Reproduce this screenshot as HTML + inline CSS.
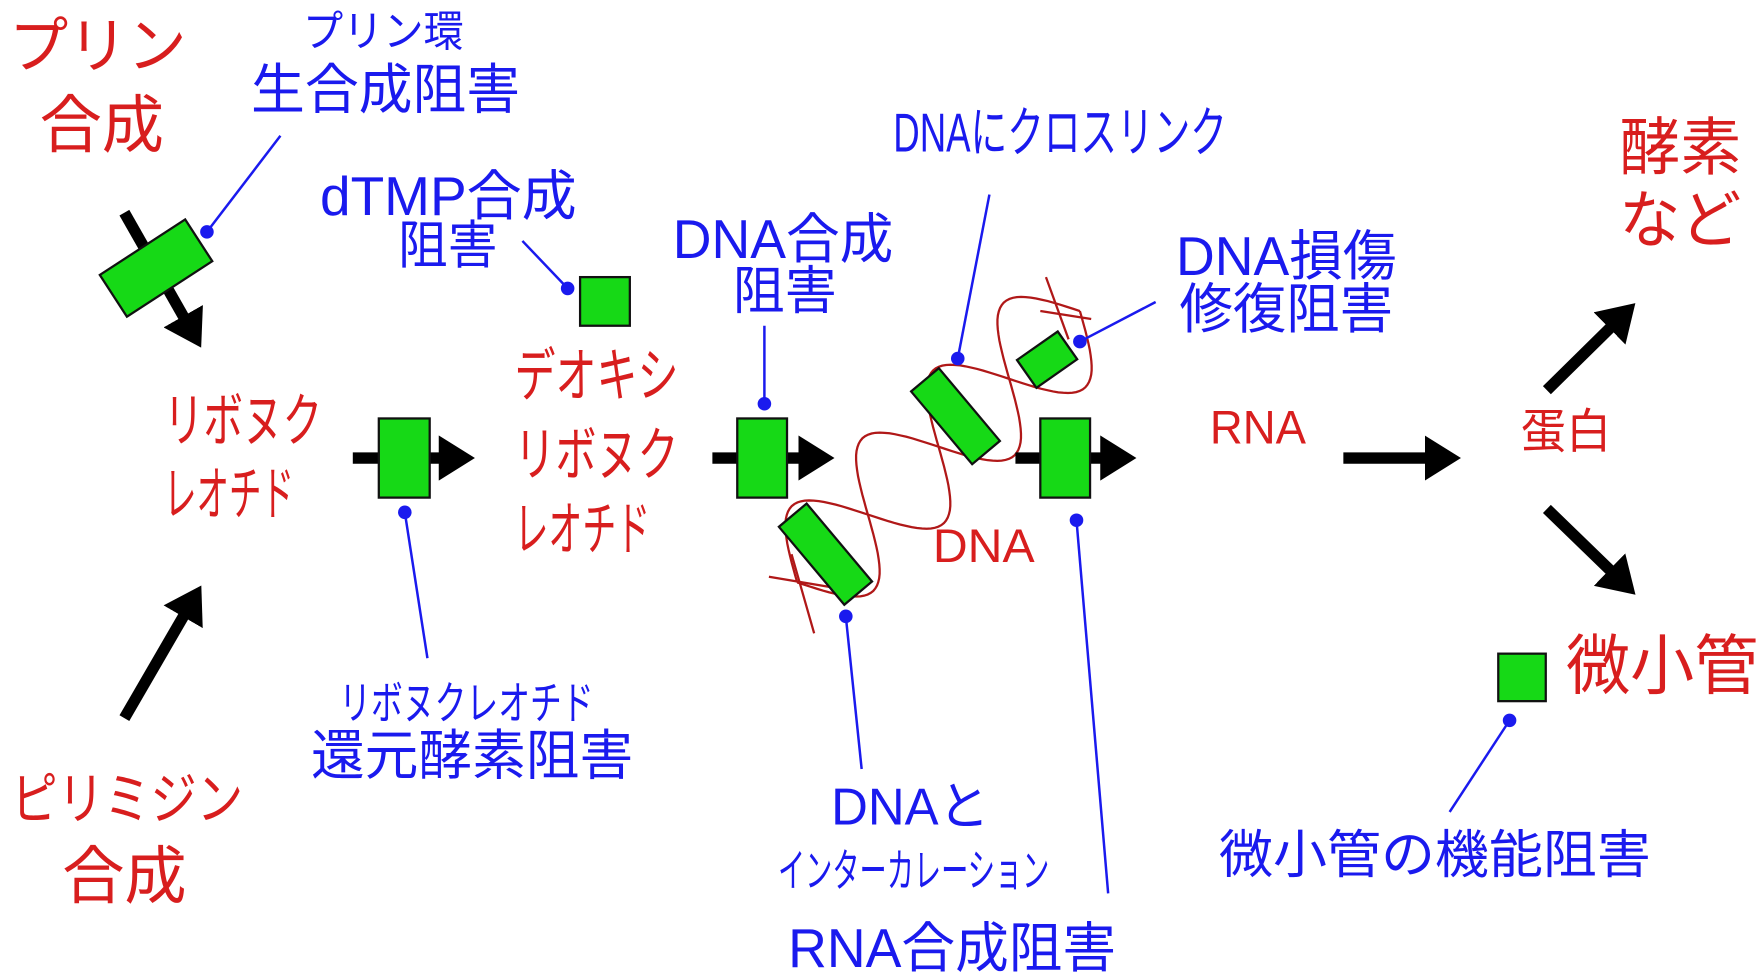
<!DOCTYPE html>
<html><head><meta charset="utf-8"><style>
html,body{margin:0;padding:0;background:#fff;}
svg{display:block}
text{font-family:"Liberation Sans","Noto Sans CJK JP",sans-serif;}
.r{fill:#d81e1e}.b{fill:#1a1aee}
</style></head><body>
<svg id="s" width="1764" height="976" viewBox="0 0 1560 863" xmlns="http://www.w3.org/2000/svg">
<defs>
<marker id="ah" markerWidth="4" markerHeight="4" refX="1.2" refY="2" orient="auto" markerUnits="strokeWidth"><path d="M0,0 L3.2,2 L0,4 z" fill="#000"/></marker>
</defs>
<g id="helix" fill="none" stroke="#b01818" stroke-width="2"></g>
<g stroke="#b01818" stroke-width="2">
<line x1="680" y1="510" x2="740" y2="520"/>
<line x1="700" y1="490" x2="720" y2="560"/>
<line x1="925" y1="245" x2="945" y2="300"/>
<line x1="920" y1="275" x2="965" y2="282"/>
</g>
<g stroke="#000" stroke-width="10" marker-end="url(#ah)">
<line x1="110" y1="188" x2="168" y2="290"/>
<line x1="110" y1="635" x2="168" y2="535"/>
<line x1="312" y1="405" x2="400" y2="405"/>
<line x1="630" y1="405" x2="718" y2="405"/>
<line x1="898" y1="405" x2="985" y2="405"/>
<line x1="1188" y1="405" x2="1272" y2="405"/>
<line x1="1368" y1="345" x2="1432" y2="282"/>
<line x1="1368" y1="450" x2="1432" y2="512"/>
</g>
<g fill="#16d916" stroke="#111" stroke-width="2">
<rect x="-45" y="-22" width="90" height="44" transform="translate(138,237) rotate(-33)"/>
<rect x="335" y="370" width="45" height="70"/>
<rect x="513" y="245" width="44" height="43"/>
<rect x="652" y="370" width="44" height="70"/>
<rect x="920" y="370" width="44" height="70"/>
<rect x="-45" y="-16" width="90" height="32" transform="translate(730,490) rotate(50)"/>
<rect x="-42" y="-16" width="84" height="32" transform="translate(845,368) rotate(50)"/>
<rect x="-22" y="-15" width="44" height="30" transform="translate(926,318) rotate(-35)"/>
<rect x="1325" y="578" width="42" height="42"/>
</g>
<g stroke="#1a1aee" stroke-width="2.2">
<line x1="248" y1="120" x2="183" y2="205"/>
<line x1="462" y1="213" x2="502" y2="255"/>
<line x1="676" y1="288" x2="676" y2="357"/>
<line x1="378" y1="582" x2="358" y2="453"/>
<line x1="875" y1="172" x2="847" y2="317"/>
<line x1="1022" y1="267" x2="955" y2="302"/>
<line x1="762" y1="680" x2="748" y2="545"/>
<line x1="980" y1="790" x2="952" y2="460"/>
<line x1="1282" y1="718" x2="1335" y2="637"/>
</g>
<g fill="#1a1aee">
<circle cx="183" cy="205" r="6"/><circle cx="502" cy="255" r="6"/><circle cx="676" cy="357" r="6"/>
<circle cx="358" cy="453" r="6"/><circle cx="847" cy="317" r="6"/><circle cx="955" cy="302" r="6"/>
<circle cx="748" cy="545" r="6"/><circle cx="952" cy="460" r="6"/><circle cx="1335" cy="637" r="6"/>
</g>
<g>
<text class="r" x="8" y="59" font-size="54" textLength="157" lengthAdjust="spacingAndGlyphs">プリン</text>
<text class="r" x="35" y="130" font-size="56" textLength="110" lengthAdjust="spacingAndGlyphs">合成</text>
<text class="b" x="268" y="41" font-size="38" textLength="142" lengthAdjust="spacingAndGlyphs">プリン環</text>
<text class="b" x="222" y="96" font-size="48" textLength="238" lengthAdjust="spacingAndGlyphs">生合成阻害</text>
<text class="r" x="145" y="390" font-size="52" textLength="140" lengthAdjust="spacingAndGlyphs">リボヌク</text>
<text class="r" x="145" y="455" font-size="52" textLength="115" lengthAdjust="spacingAndGlyphs">レオチド</text>
<text class="b" x="283" y="190" font-size="48" textLength="227" lengthAdjust="spacingAndGlyphs">dTMP合成</text>
<text class="b" x="352" y="233" font-size="46" textLength="88" lengthAdjust="spacingAndGlyphs">阻害</text>
<text class="r" x="455" y="350" font-size="52" textLength="145" lengthAdjust="spacingAndGlyphs">デオキシ</text>
<text class="r" x="455" y="420" font-size="52" textLength="145" lengthAdjust="spacingAndGlyphs">リボヌク</text>
<text class="r" x="455" y="486" font-size="52" textLength="120" lengthAdjust="spacingAndGlyphs">レオチド</text>
<text class="b" x="595" y="228" font-size="48" textLength="195" lengthAdjust="spacingAndGlyphs">DNA合成</text>
<text class="b" x="648" y="273" font-size="46" textLength="92" lengthAdjust="spacingAndGlyphs">阻害</text>
<text class="b" x="790" y="134" font-size="48" textLength="295" lengthAdjust="spacingAndGlyphs">DNAにクロスリンク</text>
<text class="b" x="1040" y="243" font-size="48" textLength="195" lengthAdjust="spacingAndGlyphs">DNA損傷</text>
<text class="b" x="1043" y="290" font-size="48" textLength="189" lengthAdjust="spacingAndGlyphs">修復阻害</text>
<text class="r" x="825" y="497" font-size="42" textLength="90" lengthAdjust="spacingAndGlyphs">DNA</text>
<text class="r" x="1070" y="392" font-size="42" textLength="85" lengthAdjust="spacingAndGlyphs">RNA</text>
<text class="r" x="1345" y="396" font-size="42" textLength="80" lengthAdjust="spacingAndGlyphs">蛋白</text>
<text class="r" x="1432" y="150" font-size="56" textLength="108" lengthAdjust="spacingAndGlyphs">酵素</text>
<text class="r" x="1432" y="214" font-size="56" textLength="108" lengthAdjust="spacingAndGlyphs">など</text>
<text class="r" x="1385" y="609" font-size="58" textLength="170" lengthAdjust="spacingAndGlyphs">微小管</text>
<text class="b" x="1078" y="772" font-size="46" textLength="382" lengthAdjust="spacingAndGlyphs">微小管の機能阻害</text>
<text class="b" x="735" y="729" font-size="46" textLength="140" lengthAdjust="spacingAndGlyphs">DNAと</text>
<text class="b" x="688" y="784" font-size="40" textLength="240" lengthAdjust="spacingAndGlyphs">インターカレーション</text>
<text class="b" x="697" y="855" font-size="48" textLength="290" lengthAdjust="spacingAndGlyphs">RNA合成阻害</text>
<text class="b" x="300" y="636" font-size="40" textLength="225" lengthAdjust="spacingAndGlyphs">リボヌクレオチド</text>
<text class="b" x="275" y="685" font-size="48" textLength="285" lengthAdjust="spacingAndGlyphs">還元酵素阻害</text>
<text class="r" x="10" y="724" font-size="50" textLength="205" lengthAdjust="spacingAndGlyphs">ピリミジン</text>
<text class="r" x="55" y="794" font-size="56" textLength="110" lengthAdjust="spacingAndGlyphs">合成</text>
</g>
</svg>
<script>
(function(){
var g=document.getElementById('helix');
var P0=[705,515],P1=[955,275];
var dx=P1[0]-P0[0],dy=P1[1]-P0[1],L=Math.hypot(dx,dy);
var ux=dx/L,uy=dy/L,nx=-uy,ny=ux;
for(var k=0;k<2;k++){
 var d='';
 for(var i=0;i<=120;i++){
  var t=i/120;var a=52*Math.sin(t*Math.PI*4+k*Math.PI);
  var x=P0[0]+dx*t+nx*a,y=P0[1]+dy*t+ny*a;
  d+=(i?'L':'M')+x.toFixed(1)+','+y.toFixed(1);
 }
 var p=document.createElementNS('http://www.w3.org/2000/svg','path');
 p.setAttribute('d',d);g.appendChild(p);
}
})();
</script>
</body></html>
